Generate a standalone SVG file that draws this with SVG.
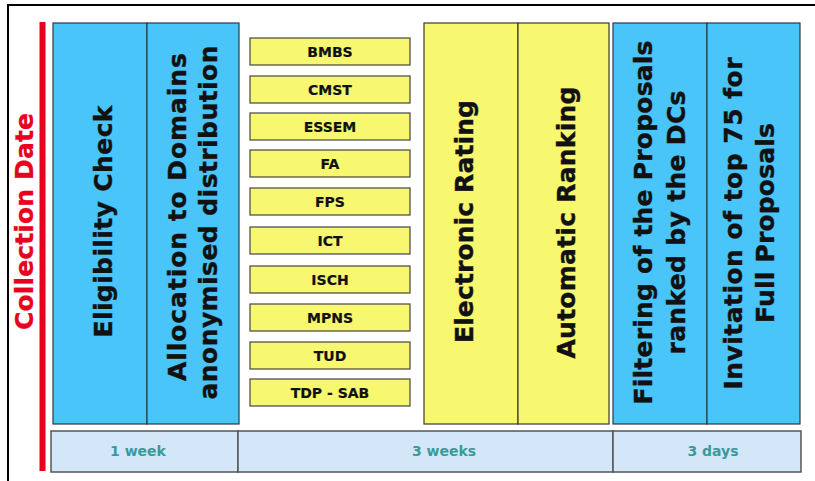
<svg xmlns="http://www.w3.org/2000/svg" width="815" height="481" viewBox="0 0 815 481">
<style>
  .bg { fill: #ffffff; }
  .frame { fill: none; stroke: #000; stroke-width: 2; }
  .blue { fill: #4AC5FA; stroke: #2a3a44; stroke-width: 1.2; }
  .yel { fill: #F7F870; stroke: #3a3a30; stroke-width: 1.2; }
  .small { fill: #F7F870; stroke: #444; stroke-width: 1.2; }
  .dur { fill: #D3E7F8; stroke: #555; stroke-width: 1.5; }
  .vt { font-family: "DejaVu Sans", Verdana, sans-serif; font-weight: bold; font-size: 25px; fill: #111; stroke: #111; stroke-width: 0.4; text-anchor: middle; }
  .st { font-family: "DejaVu Sans", Verdana, sans-serif; font-weight: bold; font-size: 14px; fill: #111; stroke: #111; stroke-width: 0.2; text-anchor: middle; }
  .dt { font-family: "DejaVu Sans", Verdana, sans-serif; font-weight: bold; font-size: 14px; fill: #3A9A9A; text-anchor: middle; }
  .red { font-family: "DejaVu Sans", Verdana, sans-serif; font-weight: bold; font-size: 25px; fill: #E8001E; stroke: #E8001E; stroke-width: 0.3; text-anchor: middle; }
</style>
<rect class="bg" x="0" y="0" width="815" height="481"/>
<rect class="frame" x="8" y="5" width="830" height="500"/>

<g id="collection-date">
  <rect x="39.5" y="22" width="6" height="449" fill="#E8001E"/>
  <text class="red" transform="translate(33,221.5) rotate(-90)" textLength="217">Collection Date</text>
</g>

<g id="eligibility-check">
  <rect class="blue" x="53" y="23" width="94" height="401"/>
  <text class="vt" transform="translate(112,221.5) rotate(-90)" textLength="232">Eligibility Check</text>
</g>

<g id="allocation">
  <rect class="blue" x="147" y="23" width="92" height="401"/>
  <text class="vt" transform="translate(186,217) rotate(-90)" textLength="328">Allocation to Domains</text>
  <text class="vt" transform="translate(217,222.5) rotate(-90)" textLength="354">anonymised distribution</text>
</g>

<g id="domain-bmbs"><rect class="small" x="250" y="38" width="160" height="27"/><text class="st" x="330" y="56.5">BMBS</text></g>
<g id="domain-cmst"><rect class="small" x="250" y="76" width="160" height="27"/><text class="st" x="330" y="94.5">CMST</text></g>
<g id="domain-essem"><rect class="small" x="250" y="113" width="160" height="27"/><text class="st" x="330" y="131.5">ESSEM</text></g>
<g id="domain-fa"><rect class="small" x="250" y="150" width="160" height="27"/><text class="st" x="330" y="168.5">FA</text></g>
<g id="domain-fps"><rect class="small" x="250" y="188" width="160" height="27"/><text class="st" x="330" y="206.5">FPS</text></g>
<g id="domain-ict"><rect class="small" x="250" y="227" width="160" height="27"/><text class="st" x="330" y="245.5">ICT</text></g>
<g id="domain-isch"><rect class="small" x="250" y="266" width="160" height="27"/><text class="st" x="330" y="284.5">ISCH</text></g>
<g id="domain-mpns"><rect class="small" x="250" y="304" width="160" height="27"/><text class="st" x="330" y="322.5">MPNS</text></g>
<g id="domain-tud"><rect class="small" x="250" y="342" width="160" height="27"/><text class="st" x="330" y="360.5">TUD</text></g>
<g id="domain-tdp-sab"><rect class="small" x="250" y="379" width="160" height="27"/><text class="st" x="330" y="397.5">TDP - SAB</text></g>

<g id="electronic-rating">
  <rect class="yel" x="424" y="23" width="94" height="401"/>
  <text class="vt" transform="translate(473,221.5) rotate(-90)" textLength="243">Electronic Rating</text>
</g>

<g id="automatic-ranking">
  <rect class="yel" x="518" y="23" width="91" height="401"/>
  <text class="vt" transform="translate(575,222.5) rotate(-90)" textLength="272">Automatic Ranking</text>
</g>

<g id="filtering">
  <rect class="blue" x="613" y="23" width="94" height="401"/>
  <text class="vt" transform="translate(652,222.5) rotate(-90)" textLength="364">Filtering of the Proposals</text>
  <text class="vt" transform="translate(685,222.5) rotate(-90)" textLength="264">ranked by the DCs</text>
</g>

<g id="invitation">
  <rect class="blue" x="707" y="23" width="93" height="401"/>
  <text class="vt" transform="translate(742,223.5) rotate(-90)" textLength="332">Invitation of top 75 for</text>
  <text class="vt" transform="translate(774,223) rotate(-90)" textLength="200">Full Proposals</text>
</g>

<g id="duration-1-week">
  <rect class="dur" x="51" y="431" width="187" height="41"/>
  <text class="dt" x="138" y="456">1 week</text>
</g>
<g id="duration-3-weeks">
  <rect class="dur" x="238" y="431" width="375" height="41"/>
  <text class="dt" x="444" y="456">3 weeks</text>
</g>
<g id="duration-3-days">
  <rect class="dur" x="613" y="431" width="188" height="41"/>
  <text class="dt" x="713" y="456">3 days</text>
</g>
</svg>
